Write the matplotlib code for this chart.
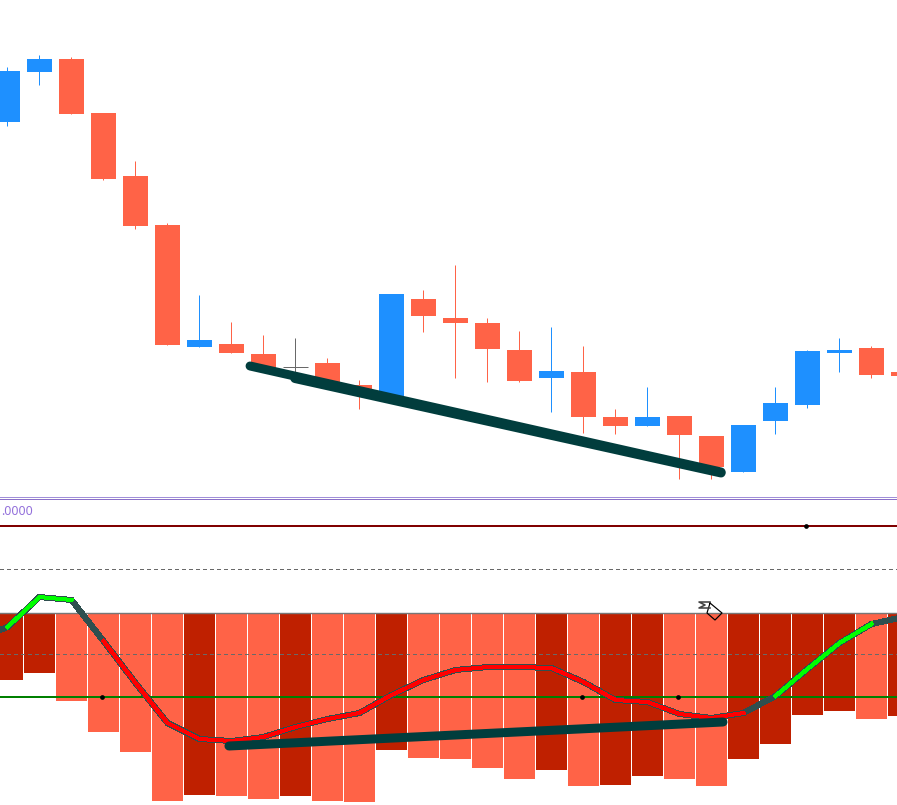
import matplotlib
matplotlib.use("Agg")
import matplotlib.pyplot as plt

opens = [122, 72, 59, 113, 176, 225, 347, 344, 354, 367, 363, 385, 396, 299, 318, 323, 350, 378, 372, 417, 426, 416, 436, 472, 421, 405, 353, 348, 372]
closes = [71, 59, 114, 179, 226, 345, 340, 353, 368, 367, 384, 392, 294, 316, 323, 349, 381, 371, 417, 426, 417, 435, 467, 425, 403, 351, 350, 375, 376]
highs = [67, 55, 57, 113, 161, 223, 295, 322, 335, 338, 358, 380, 294, 290, 265, 318, 331, 327, 346, 409, 387, 416, 436, 425, 387, 350, 338, 346, 372]
lows = [126, 85, 114, 180, 229, 345, 347, 353, 368, 372, 384, 409, 396, 332, 378, 382, 382, 412, 433, 434, 426, 479, 479, 472, 434, 408, 372, 378, 376]

hist_rows = [680, 673, 701, 732, 752, 801, 795, 796, 799, 796, 801, 802, 750, 758, 759, 768, 779, 770, 786, 785, 776, 779, 786, 759, 744, 715, 711, 719, 716]
hist_dark = [1, 1, 0, 0, 0, 0, 1, 0, 0, 1, 0, 0, 1, 0, 0, 0, 0, 1, 0, 1, 1, 0, 0, 1, 1, 1, 1, 0, 1]

# oscillator line, starts one bar left of the picture
osc_idx = list(range(-1, 29))
osc_rows = [640, 627, 597, 600, 641, 683, 723, 739, 741, 737, 727, 719, 713, 695, 680, 670, 667, 667, 668, 682, 700, 702, 714, 718, 713, 696, 669, 643, 624, 617]

level_zero = 612.5
level_red = 526
level_up = 569
level_down = 654
level_green = 697
dots_x = [2.95, 17.95, 20.95]
dot_red_x = [24.95]

trend_x = [[7.58, 22.3], [8.98, 22.3], [6.92, 22.36]]
trend_y = [[366, 472], [378.5, 473], [746, 722]]

# sigma cursor outline
sigma_x = [710, 699, 705, 699, 710]
sigma_y = [602, 602, 605, 608, 608]
arrow_x = [710, 722, 715, 707, 710]
arrow_y = [603, 613, 620, 613, 603]

TOMATO = "#ff6347"
BLUE = "#1e90ff"
DARK = "#bf2000"
TEAL = "#013d3d"
SLATE = "#2f4f4f"
GREY = "#696969"
px = 0.72
wick_shift = 0.6 / 32

fig = plt.figure(figsize=(8.97, 8.05), dpi=100)
ax = fig.add_axes([0, 0, 1, 1])
ax.set_xlim(-7.5 / 32, 889.5 / 32)
ax.set_ylim(805, 0)
ax.axis("off")

# candles
for i in range(len(opens)):
    if closes[i] < opens[i]:
        col = BLUE
    elif closes[i] > opens[i]:
        col = TOMATO
    else:
        col = GREY
    ax.vlines(i - wick_shift, highs[i], lows[i], color=col, lw=px, zorder=2)
    if col == GREY:
        ax.hlines(opens[i], i - 12.5 / 32, i + 12.5 / 32, color=col, lw=px, zorder=2)
    else:
        top = min(opens[i], closes[i])
        ax.bar(i, abs(closes[i] - opens[i]), bottom=top, width=25 / 32, color=col, lw=0, zorder=3)

# histogram
for i in range(len(hist_rows)):
    col = DARK if hist_dark[i] else TOMATO
    ax.bar(i, hist_rows[i] - level_zero, bottom=level_zero, width=31 / 32, color=col, lw=0, zorder=2)

# pane separator
ax.axhline(497, color="#a08fd8", lw=px, zorder=1)
ax.axhline(499, color="#8a70c8", lw=px, zorder=1)

# levels
ax.axhline(level_red, color="#800000", lw=2 * px, zorder=3)
ax.axhline(level_up, color=GREY, lw=px, ls=(0, (4, 3)), antialiased=False, zorder=3)
ax.axhline(level_down, color=GREY, lw=px, ls=(0, (4, 3)), antialiased=False, zorder=3)
ax.axhline(level_zero, color="#777777", lw=1.4 * px, zorder=3)
ax.axhline(level_green, color="#008000", lw=2 * px, zorder=3)
ax.plot(dots_x, [level_green] * len(dots_x), "o", color="black", ms=3.4, mew=0, zorder=4)
ax.plot(dot_red_x, [level_red] * len(dot_red_x), "o", color="black", ms=3.4, mew=0, zorder=4)

# oscillator
ax.plot(osc_idx, osc_rows, color=SLATE, lw=5 * px, antialiased=False, solid_joinstyle="miter", zorder=5)
ax.plot(osc_idx[1:4], osc_rows[1:4], color="#00ff00", lw=3 * px, antialiased=False, zorder=6)
ax.plot(osc_idx[4:25], osc_rows[4:25], color="#ff0000", lw=3 * px, antialiased=False, zorder=6)
ax.plot(osc_idx[25:29], osc_rows[25:29], color="#00ff00", lw=3 * px, antialiased=False, zorder=6)

# hand drawn trend lines
for tx, ty in zip(trend_x, trend_y):
    ax.plot(tx, ty, color=TEAL, lw=9 * px, solid_capstyle="round", zorder=7)

# overlay in screen pixels for the label and the mouse cursor
over = fig.add_axes([0, 0, 1, 1])
over.set_xlim(0, 897)
over.set_ylim(805, 0)
over.axis("off")
over.patch.set_alpha(0)
over.text(1, 511, ".0000", color="#9370db", family="Noto Sans", fontsize=8.9, va="center", ha="left")
over.plot(arrow_x, arrow_y, color="black", lw=1.2 * px, zorder=9)
over.plot(sigma_x, sigma_y, color="#444444", lw=1.6 * px, zorder=10)

fig.savefig("out.png", dpi=100)
